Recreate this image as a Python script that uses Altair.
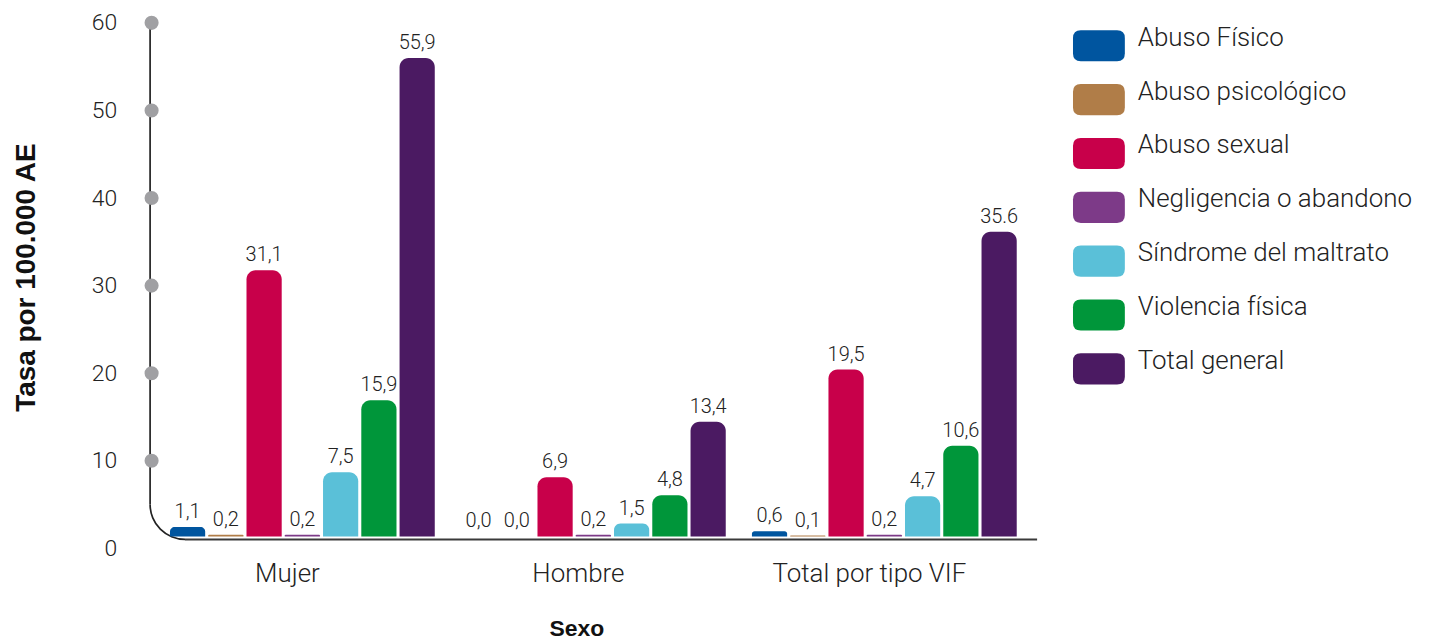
import math
import altair as alt
import pandas as pd

groups = ["Mujer", "Hombre", "Total por tipo VIF"]
series = ["Abuso Físico", "Abuso psicológico", "Abuso sexual",
          "Negligencia o abandono", "Síndrome del maltrato",
          "Violencia física", "Total general"]
colors = ["#00559f", "#b07d48", "#c8004a", "#7d3a88", "#5ac0d8", "#00963a", "#4b1a62"]

mujer = [1.1, 0.2, 31.1, 0.2, 7.5, 15.9, 55.9]
hombre = [0.0, 0.0, 6.9, 0.2, 1.5, 4.8, 13.4]
total = [0.6, 0.1, 19.5, 0.2, 4.7, 10.6, 35.6]
mujer_lbl = ["1,1", "0,2", "31,1", "0,2", "7,5", "15,9", "55,9"]
hombre_lbl = ["0,0", "0,0", "6,9", "0,2", "1,5", "4,8", "13,4"]
total_lbl = ["0,6", "0,1", "19,5", "0,2", "4,7", "10,6", "35.6"]
y_ticks = [0, 10, 20, 30, 40, 50, 60]
dot_ticks = [10, 20, 30, 40, 50, 60]

rows = []
for g, vals, lbls in zip(groups, [mujer, hombre, total], [mujer_lbl, hombre_lbl, total_lbl]):
    for s, v, l in zip(series, vals, lbls):
        rows.append({"grupo": g, "serie": s, "valor": v, "lbl": l})
df = pd.DataFrame(rows)
df_dots = pd.DataFrame({"t": dot_ticks})
one = pd.DataFrame({"a": [0]})

FONT = "Roboto"
TFONT = "Liberation Sans"
path = ("M-0.7,-0.6 L0.7,-0.6 Q1,-0.6 1,-0.3 L1,0.3 Q1,0.6 0.7,0.6 "
        "L-0.7,0.6 Q-1,0.6 -1,0.3 L-1,-0.3 Q-1,-0.6 -0.7,-0.6 Z")

x_enc = alt.X("grupo:N", sort=groups,
              scale=alt.Scale(paddingInner=0.09, paddingOuter=0.07),
              axis=alt.Axis(orient="bottom", domain=False, ticks=False, labelPadding=30,
                            labelBaseline="alphabetic", labelFontSize=26, labelFont=FONT,
                            labelFontWeight=300, labelColor="#222", labelAngle=0, labelOffset=-15,
                            labelLimit=400,
                            title="Sexo", titleFontSize=23, titleFont=TFONT, titleFontWeight="bold",
                            titleX=428, titleY=84, titleBaseline="alphabetic", titleAlign="center",
                            titleColor="#111"))
xo_enc = alt.XOffset("serie:N", sort=series, scale=alt.Scale(paddingInner=0.08))
yA = alt.Scale(domain=[-1.75, 60], nice=False, zero=False)
yB = alt.Scale(domain=[-0.34, 60], nice=False, zero=False)
color_enc = alt.Color("serie:N", sort=series, scale=alt.Scale(domain=series, range=colors),
                      legend=alt.Legend(orient="none", legendX=926, legendY=-3, title=None,
                                        symbolType=path, symbolSize=2704, symbolStrokeWidth=0,
                                        symbolOpacity=1, labelFontSize=26, labelFont=FONT,
                                        labelFontWeight=300, labelColor="#222", rowPadding=12,
                                        labelOffset=13, labelBaseline="alphabetic", padding=0,
                                        labelLimit=400))

vline = alt.Chart(one).mark_rule(color="#222", strokeWidth=1.7).encode(
    x=alt.value(0.5), y=alt.value(0), y2=alt.value(483))
hline = alt.Chart(one).mark_rule(color="#3a3a3a", strokeWidth=2).encode(
    x=alt.value(35.5), x2=alt.value(890), y=alt.value(518))
corner = alt.Chart(one).mark_arc(theta=math.pi, theta2=1.5 * math.pi, innerRadius=34.15,
                                 outerRadius=35.85, color="#222").encode(
    x=alt.value(35.5), y=alt.value(483))

bars = alt.Chart(df).mark_bar(cornerRadiusTopLeft=9, cornerRadiusTopRight=9).encode(
    x=x_enc, xOffset=xo_enc,
    y=alt.Y("valor:Q", scale=yA, axis=None), y2=alt.datum(0),
    color=color_enc)
labels = alt.Chart(df).mark_text(baseline="bottom", dy=-5, fontSize=20, font=FONT,
                                 fontWeight=300, color="#222").encode(
    x=x_enc, xOffset=xo_enc,
    y=alt.Y("valor:Q", scale=yA, axis=None), text="lbl:N")

dots = alt.Chart(df_dots).mark_circle(size=200, color="#a0a0a3", opacity=1).encode(
    x=alt.value(2),
    y=alt.Y("t:Q", scale=yB,
            axis=alt.Axis(orient="left", values=y_ticks, domain=False, ticks=False, tickSize=0,
                          grid=False, labelPadding=33, labelFontSize=23, labelFont=FONT,
                          labelFontWeight=300, labelColor="#222", labelOverlap=False, format="d",
                          title="Tasa por 100.000 AE", titleFontSize=28, titleFont=TFONT,
                          titleFontWeight="bold", titleColor="#111", titleX=-115, titleY=255,
                          titleBaseline="alphabetic", titleAlign="center", titleAngle=-90)))

chart = alt.layer(vline, hline, corner, bars, labels, dots).resolve_scale(
    y="independent").properties(
    width=890, height=530,
    padding={"left": 142, "top": 14, "right": 390, "bottom": 90},
    autosize=alt.AutoSizeParams(type="none"),
).configure(font=FONT).configure_view(stroke=None, strokeWidth=0)

chart.save("out.html", embed_options={"renderer": "svg", "actions": False})
